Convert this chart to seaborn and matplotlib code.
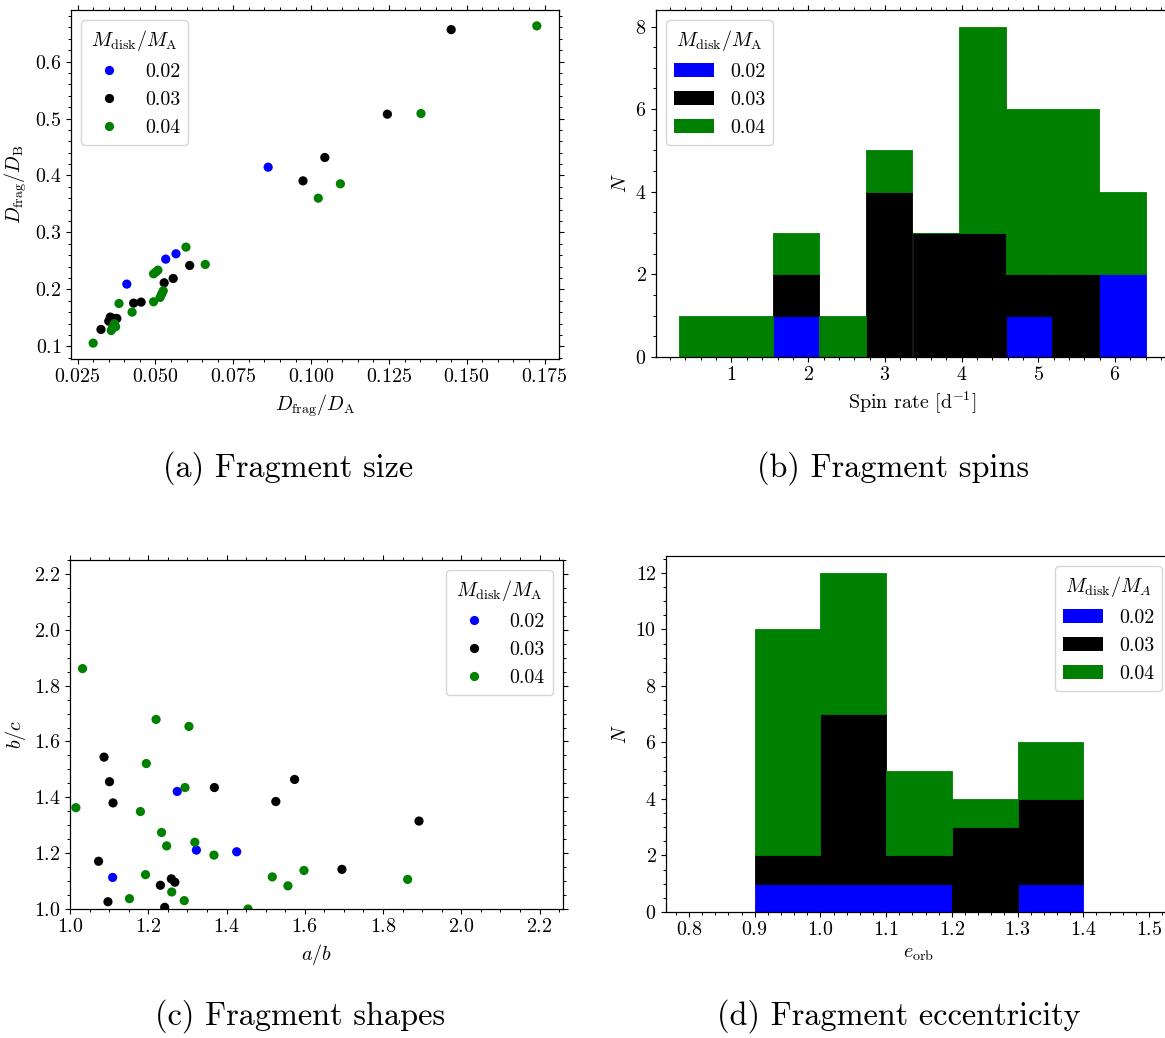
import numpy as np
import pandas as pd
import matplotlib
matplotlib.use("Agg")
import matplotlib.pyplot as plt
import seaborn as sns
from matplotlib.ticker import AutoMinorLocator, MultipleLocator
from matplotlib.patches import Patch

# ---------------- data ----------------
mass_levels = ["0.02", "0.03", "0.04"]
mass_colors = ["blue", "black", "green"]

# (a) fragment size
size_dA_002 = [0.0862, 0.0533, 0.0566, 0.0408]
size_dB_002 = [0.4146, 0.2532, 0.2626, 0.2094]
size_dA_003 = [0.1450, 0.1245, 0.1044, 0.0974, 0.0610, 0.0557, 0.0528, 0.0454,
               0.0430, 0.0325, 0.0355, 0.0368, 0.0376, 0.0350]
size_dB_003 = [0.6560, 0.5076, 0.4316, 0.3906, 0.2421, 0.2193, 0.2117, 0.1778,
               0.1760, 0.1298, 0.1515, 0.1491, 0.1491, 0.1444]
size_dA_004 = [0.1725, 0.1353, 0.1094, 0.1023, 0.0598, 0.0660, 0.0494, 0.0502,
               0.0508, 0.0525, 0.0520, 0.0515, 0.0494, 0.0425, 0.0383, 0.0300,
               0.0368, 0.0362, 0.0372, 0.0358]
size_dB_004 = [0.6626, 0.5088, 0.3854, 0.3602, 0.2743, 0.2439, 0.2275, 0.2310,
               0.2339, 0.1977, 0.1920, 0.1860, 0.1784, 0.1602, 0.1754, 0.1058,
               0.1400, 0.1330, 0.1345, 0.1280]

# (b) spin rates [1/day]
spin_002 = [1.84, 4.95, 5.95, 6.22]
spin_003 = [1.70, 2.85, 3.02, 3.15, 3.30, 3.45, 3.62, 3.85, 4.05, 4.25, 4.48,
            4.70, 5.30, 5.62]
spin_004 = [0.32, 1.21, 2.05, 2.52, 3.21, 4.02, 4.15, 4.31, 4.40, 4.55, 4.62,
            4.83, 5.00, 5.12, 5.25, 5.40, 5.55, 5.70, 5.88, 6.40]

# (c) fragment shapes
ab_002 = [1.274, 1.323, 1.426, 1.109]
bc_002 = [1.421, 1.211, 1.205, 1.113]
ab_003 = [1.087, 1.101, 1.110, 1.369, 1.574, 1.526, 1.892, 1.073, 1.695, 1.259,
          1.268, 1.231, 1.097, 1.242]
bc_003 = [1.544, 1.456, 1.380, 1.435, 1.464, 1.385, 1.315, 1.171, 1.142, 1.108,
          1.096, 1.085, 1.026, 1.006]
ab_004 = [1.032, 1.220, 1.304, 1.195, 1.294, 1.015, 1.180, 1.234, 1.319, 1.247,
          1.368, 1.598, 1.193, 1.517, 1.557, 1.863, 1.260, 1.152, 1.292, 1.455]
bc_004 = [1.861, 1.679, 1.654, 1.521, 1.435, 1.363, 1.349, 1.274, 1.239, 1.226,
          1.193, 1.138, 1.123, 1.115, 1.083, 1.106, 1.061, 1.037, 1.030, 1.000]

# (d) orbital eccentricity
ecc_002 = [0.95, 1.04, 1.15, 1.36]
ecc_003 = [0.97, 1.01, 1.03, 1.05, 1.06, 1.08, 1.09, 1.13, 1.21, 1.24, 1.28,
           1.32, 1.35, 1.38]
ecc_004 = [0.91, 0.92, 0.93, 0.94, 0.96, 0.97, 0.98, 0.99, 1.02, 1.04, 1.06,
           1.07, 1.09, 1.12, 1.16, 1.18, 1.26, 1.31, 1.37]

caption_texts = ["(a) Fragment size", "(b) Fragment spins",
                 "(c) Fragment shapes", "(d) Fragment eccentricity"]

# ---------------- tables ----------------
def two_col(name_x, name_y, groups):
    frames = []
    for lvl, (xs, ys) in zip(mass_levels, groups):
        frames.append(pd.DataFrame({name_x: xs, name_y: ys, "M": lvl}))
    return pd.concat(frames, ignore_index=True)

def one_col(name, groups):
    frames = []
    for lvl, xs in zip(mass_levels, groups):
        frames.append(pd.DataFrame({name: xs, "M": lvl}))
    return pd.concat(frames, ignore_index=True)

df_size = two_col("dA", "dB", [(size_dA_002, size_dB_002),
                              (size_dA_003, size_dB_003),
                              (size_dA_004, size_dB_004)])
df_shape = two_col("ab", "bc", [(ab_002, bc_002), (ab_003, bc_003),
                               (ab_004, bc_004)])
df_spin = one_col("spin", [spin_002, spin_003, spin_004])
df_ecc = one_col("ecc", [ecc_002, ecc_003, ecc_004])

palette = dict(zip(mass_levels, mass_colors))

# ---------------- style ----------------
sns.set_style("ticks")
plt.rcParams.update({
    "font.family": "serif",
    "font.serif": ["cmr10", "DejaVu Serif"],
    "mathtext.fontset": "cm",
    "axes.formatter.use_mathtext": True,
    "axes.unicode_minus": False,
    "font.size": 14.4,
    "axes.labelsize": 14.4,
    "xtick.labelsize": 14.4,
    "ytick.labelsize": 14.4,
    "legend.fontsize": 14.4,
    "legend.title_fontsize": 14.4,
    "axes.edgecolor": "black",
    "axes.linewidth": 0.9,
    "xtick.color": "black",
    "ytick.color": "black",
    "xtick.major.size": 3.3,
    "ytick.major.size": 3.3,
    "xtick.minor.size": 1.9,
    "ytick.minor.size": 1.9,
    "xtick.major.width": 0.8,
    "ytick.major.width": 0.8,
    "xtick.minor.width": 0.7,
    "ytick.minor.width": 0.7,
    "text.color": "black",
    "axes.labelcolor": "black",
    "legend.edgecolor": "0.8",
    "legend.framealpha": 0.8,
})

W, H = 1165, 1038
fig = plt.figure(figsize=(W / 100, H / 100), dpi=100)

def px_axes(left, right, top, bottom):
    return fig.add_axes([left / W, 1 - bottom / H, (right - left) / W,
                         (bottom - top) / H])

ax_a = px_axes(71, 559, 10, 359)
ax_b = px_axes(656, 1169, 10, 357)
ax_c = px_axes(70, 563, 560, 909)
ax_d = px_axes(666, 1172, 556, 912)

title_std = r"$M_{\rm disk}/M_{\rm A}$"
title_d = r"$M_{\rm disk}/M_A$"

def seal_bars(ax):
    # give each bar an edge in its own colour so adjacent bars join seamlessly
    for p in ax.patches:
        p.set_edgecolor(p.get_facecolor())
        p.set_linewidth(0.6)

# (a)
sns.scatterplot(data=df_size, x="dA", y="dB", hue="M", hue_order=mass_levels,
                palette=palette, s=44, linewidth=0, ax=ax_a)
sns.move_legend(ax_a, "upper left", title=title_std)
ax_a.set_xlabel(r"$D_{\rm frag}/D_{\rm A}$")
ax_a.set_ylabel(r"$D_{\rm frag}/D_{\rm B}$")
ax_a.xaxis.set_major_locator(MultipleLocator(0.025))
ax_a.xaxis.set_minor_locator(AutoMinorLocator(5))
ax_a.yaxis.set_minor_locator(AutoMinorLocator(5))
ax_a.tick_params(which="both", top=True, right=True)

# (b)
sns.histplot(data=df_spin, x="spin", hue="M", hue_order=mass_levels[::-1],
             palette=palette, multiple="stack", bins=10, alpha=1,
             linewidth=0, legend=False, ax=ax_b)
seal_bars(ax_b)
ax_b.legend(handles=[Patch(facecolor=c, edgecolor="none", label=l)
                     for l, c in zip(mass_levels, mass_colors)],
            title=title_std, loc="upper left")
ax_b.set_xlabel(r"Spin rate [d$^{-1}$]")
ax_b.set_ylabel(r"$N$")
ax_b.xaxis.set_minor_locator(AutoMinorLocator(5))
ax_b.yaxis.set_minor_locator(AutoMinorLocator(4))
ax_b.tick_params(which="both", top=True, right=True)

# (c)
sns.scatterplot(data=df_shape, x="ab", y="bc", hue="M", hue_order=mass_levels,
                palette=palette, s=44, linewidth=0, ax=ax_c)
sns.move_legend(ax_c, "upper right", title=title_std)
ax_c.set_xlim(1.0, 2.26)
ax_c.set_ylim(1.0, 2.25)
ax_c.set_xlabel(r"$a/b$")
ax_c.set_ylabel(r"$b/c$")
ax_c.xaxis.set_minor_locator(AutoMinorLocator(4))
ax_c.yaxis.set_minor_locator(AutoMinorLocator(4))
ax_c.tick_params(which="both", top=True, right=True)

# (d)
sns.histplot(data=df_ecc, x="ecc", hue="M", hue_order=mass_levels[::-1],
             palette=palette, multiple="stack", bins=7, binrange=(0.8, 1.5),
             alpha=1, linewidth=0, legend=False, ax=ax_d)
seal_bars(ax_d)
ax_d.legend(handles=[Patch(facecolor=c, edgecolor="none", label=l)
                     for l, c in zip(mass_levels, mass_colors)],
            title=title_d, loc="upper right")
ax_d.set_xlabel(r"$e_{\rm orb}$")
ax_d.set_ylabel(r"$N$")
ax_d.xaxis.set_minor_locator(AutoMinorLocator(5))
ax_d.yaxis.set_minor_locator(AutoMinorLocator(4))

for ax in (ax_a, ax_b, ax_c, ax_d):
    for sp in ax.spines.values():
        sp.set_visible(True)

# captions
cap_pos = [(288, 468), (893, 468), (300, 1016), (899, 1016)]
for (cx, cy), txt in zip(cap_pos, caption_texts):
    fig.text(cx / W, 1 - cy / H, txt, ha="center", va="center", fontsize=23.2)

fig.savefig("out.png", dpi=100)
